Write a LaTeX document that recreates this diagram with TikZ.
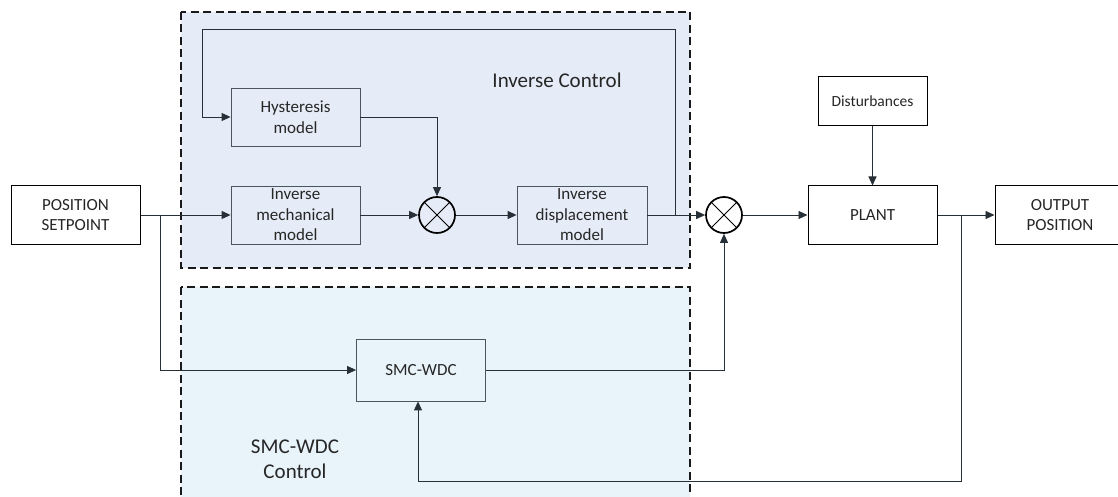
\documentclass[tikz,border=0pt]{standalone}
\usepackage{fontspec}
\setmainfont{Carlito}
\usepackage{tikz}
\usetikzlibrary{arrows.meta, positioning}

\definecolor{invfill}{RGB}{230,236,247}
\definecolor{smcfill}{RGB}{232,243,250}
\definecolor{wirecol}{RGB}{40,48,55}
\definecolor{blockline}{RGB}{75,85,93}

\begin{document}
\begin{tikzpicture}[>={Triangle[length=9pt,width=8pt]}, node distance=100pt, on grid, auto,
	block/.style={draw=blockline, line width=0.8pt, minimum width=129pt, minimum height=58pt,
		inner sep=1pt, align=center, font=\fontsize{17}{20.5}\selectfont, text=black!85},
	io/.style={block, draw=black, fill=white, line width=1pt},
	mult/.style={circle, draw=black, line width=1.7pt, minimum size=36pt, inner sep=0pt,
		path picture={\draw[line width=0.8pt] (path picture bounding box.north west) -- (path picture bounding box.south east)
			(path picture bounding box.north east) -- (path picture bounding box.south west);}},
	group/.style={draw=black!90, line width=1.1pt, dash pattern=on 8pt off 4.5pt},
	title/.style={font=\fontsize{21}{25}\selectfont, text=black!85, align=center},
	wire/.style={color=wirecol, line width=0.95pt}]
	\clip (0,0) rectangle (1118pt,-497pt);

	% control regions
	\path[group, fill=invfill] (181pt,-12pt) rectangle (690pt,-268pt);
	\path[group, fill=smcfill] (181pt,-287pt) rectangle (690pt,-510pt);
	\node[title] (invlbl) at (557pt,-80pt) {Inverse Control};
	\node[title] (smclbl) at (295pt,-459pt) {SMC-WDC\\Control};

	% blocks
	\node[io] (sp) at (75.5pt,-215pt) {POSITION\\SETPOINT};
	\node[block, right=220pt of sp] (invmech) {Inverse\\mechanical\\model};
	\node[block, above=98pt of invmech] (hyst) {Hysteresis\\model};
	\node[mult, right=141.5pt of invmech] (m1) {};
	\node[block, right=145pt of m1, minimum width=130pt] (invdisp) {Inverse\\displacement\\model};
	\node[mult, right=142pt of invdisp] (m2) {};
	\node[io, right=148.5pt of m2] (plant) {PLANT};
	\node[io, above=113.5pt of plant, minimum width=109pt, minimum height=49pt,
		font=\fontsize{15.5}{19}\selectfont] (dist) {Disturbances};
	\node[io, right=187.5pt of plant, minimum width=130pt] (out) {OUTPUT\\POSITION};
	\node[block, below right=155pt and 125.5pt of invmech, minimum height=62pt] (smc) {SMC-WDC};

	% branch points
	\coordinate[right=84.5pt of sp] (split);
	\coordinate[right=93pt of invdisp] (tap);
	\coordinate[above left=88pt and 93.5pt of hyst] (loopNW);
	\coordinate[right=88.5pt of plant] (ptap);
	\coordinate[below=266pt of ptap] (pbot);

	% signal paths
	\path[wire, ->]
	(sp) edge (invmech)
	(invmech) edge (m1)
	(m1) edge (invdisp)
	(tap) edge (m2)
	(m2) edge (plant)
	(dist) edge (plant)
	(ptap) edge (out);
	\draw[wire] (invdisp.east) -- (tap) (plant.east) -- (ptap);
	\draw[wire, ->] (split) |- (smc.west);
	\draw[wire, ->] (hyst.east) -| (m1.north);
	\draw[wire, ->] (tap) |- (loopNW) |- (hyst.west);
	\draw[wire, ->] (smc.east) -| (m2.south);
	\draw[wire, ->] (ptap) -- (pbot) -| ([xshift=-3pt]smc.south);
\end{tikzpicture}
\end{document}
